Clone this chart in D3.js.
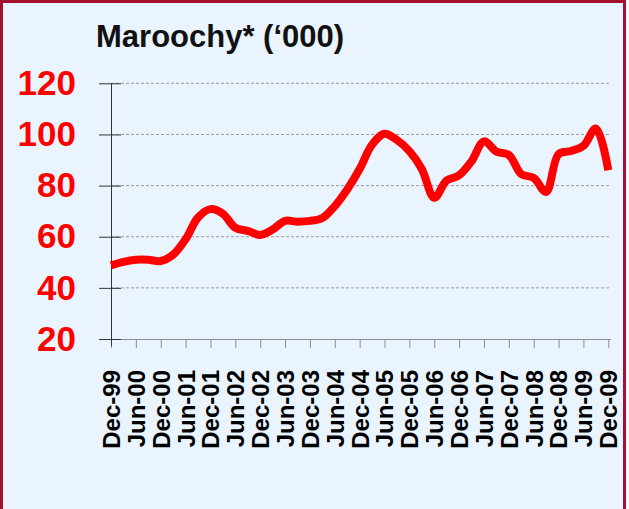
<!DOCTYPE html>
<html>
<head>
<meta charset="utf-8">
<script src="https://cdn.jsdelivr.net/npm/d3@7"></script>
<style>
  html, body { margin: 0; padding: 0; background: #ffffff; }
  svg { display: block; }
  text { font-family: Arial, "Liberation Sans", sans-serif; }
</style>
</head>
<body>
<script>
// ---- data ----
const quarters = [
  "Dec-99","Mar-00","Jun-00","Sep-00","Dec-00","Mar-01","Jun-01","Sep-01","Dec-01",
  "Mar-02","Jun-02","Sep-02","Dec-02","Mar-03","Jun-03","Sep-03","Dec-03",
  "Mar-04","Jun-04","Sep-04","Dec-04","Mar-05","Jun-05","Sep-05","Dec-05",
  "Mar-06","Jun-06","Sep-06","Dec-06","Mar-07","Jun-07","Sep-07","Dec-07",
  "Mar-08","Jun-08","Sep-08","Dec-08","Mar-09","Jun-09","Sep-09","Dec-09"
];
const values = [
  48.8, 50.2, 51.0, 51.0, 50.5, 53.0, 59.0, 67.5, 70.8,
  69.0, 63.5, 62.3, 60.7, 62.8, 66.2, 65.9, 66.2,
  67.3, 72.0, 78.5, 86.5, 96.0, 100.3, 97.8, 93.5,
  86.5, 75.2, 82.0, 84.0, 89.5, 97.3, 93.3, 92.0,
  84.5, 83.0, 77.5, 92.3, 93.5, 95.5, 102.3, 86.0
];
const tickLabels = [
  "Dec-99","Jun-00","Dec-00","Jun-01","Dec-01","Jun-02","Dec-02","Jun-03","Dec-03",
  "Jun-04","Dec-04","Jun-05","Dec-05","Jun-06","Dec-06","Jun-07","Dec-07",
  "Jun-08","Dec-08","Jun-09","Dec-09"
];
const yTicks = [20, 40, 60, 80, 100, 120];
const title = "Maroochy* (\u2018000)";

// ---- drawing ----
const W = 629, H = 509;
const svg = d3.select("body").append("svg").attr("width", W).attr("height", H);

svg.append("rect").attr("x", 0).attr("y", 0).attr("width", 626).attr("height", H + 10)
  .attr("fill", "#EAF4FE");
svg.append("rect").attr("x", 1.5).attr("y", 1.5).attr("width", 623).attr("height", H + 10)
  .attr("fill", "none").attr("stroke", "#A3112E").attr("stroke-width", 3);

svg.append("text").attr("x", 96).attr("y", 47)
  .attr("font-size", 31).attr("font-weight", "bold").attr("fill", "#111")
  .text(title);

const x = d3.scaleLinear().domain([0, quarters.length - 1]).range([111, 608.3]);
const y = d3.scaleLinear().domain([20, 120]).range([339, 83.3]);

// gridlines
svg.append("g").selectAll("line").data(yTicks.filter(d => d > 20)).join("line")
  .attr("x1", 111).attr("x2", 611)
  .attr("y1", d => y(d)).attr("y2", d => y(d))
  .attr("stroke", "#9a9a9a").attr("stroke-width", 1).attr("stroke-dasharray", "3,2");

// x axis
const tickIdx = tickLabels.map((t, i) => quarters.indexOf(t));
const xAxis = d3.axisBottom(x).tickValues(tickIdx).tickSize(9).tickSizeOuter(0)
  .tickFormat(d => quarters[d]);
const gx = svg.append("g").attr("transform", "translate(0,339)").call(xAxis);
gx.select(".domain").attr("stroke", "#8c8c8c").attr("d", "M111,0.5H611");
gx.selectAll(".tick line").attr("stroke", "#8c8c8c");
gx.selectAll(".tick text")
  .attr("transform", "rotate(-90)")
  .attr("text-anchor", "end")
  .attr("x", -31).attr("y", 0).attr("dy", "0.35em")
  .attr("font-size", 24).attr("font-weight", "bold").attr("fill", "#000")
  .attr("font-family", "Arial, 'Liberation Sans', sans-serif");

// y axis
const yAxis = d3.axisLeft(y).tickValues(yTicks).tickSize(12).tickPadding(23).tickSizeOuter(0);
const gy = svg.append("g").attr("transform", "translate(111,0)").call(yAxis);
gy.select(".domain").attr("stroke", "#333").attr("d", "M0.5,83.3V346");
gy.selectAll(".tick line").attr("stroke", "#333").attr("x2", -12).attr("x1", 10);
gy.selectAll(".tick text")
  .attr("font-size", 35).attr("font-weight", "bold").attr("fill", "#ff0000")
  .attr("font-family", "Arial, 'Liberation Sans', sans-serif");

// line
const line = d3.line()
  .x((d, i) => x(i))
  .y(d => y(d))
  .curve(d3.curveCatmullRom.alpha(0.5));
svg.append("path").datum(values)
  .attr("d", line)
  .attr("fill", "none").attr("stroke", "#ff0000").attr("stroke-width", 8)
  .attr("stroke-linejoin", "round").attr("stroke-linecap", "butt");
</script>
</body>
</html>
